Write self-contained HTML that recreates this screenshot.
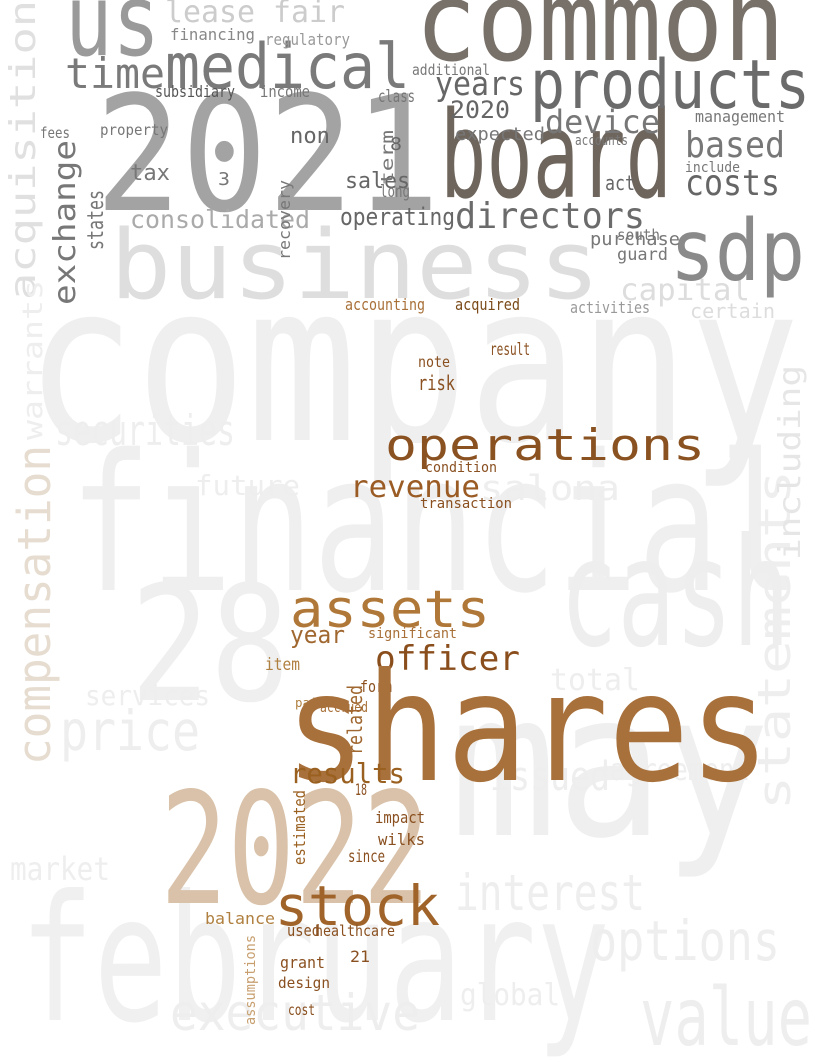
<!DOCTYPE html>
<html><head><meta charset="utf-8"><style>
html,body{margin:0;padding:0;background:#fff;}
svg{display:block;font-family:"DejaVu Sans Mono","Liberation Mono",monospace;}
</style></head><body>
<svg id="cloud" width="820" height="1064" viewBox="0 0 820 1064" xmlns="http://www.w3.org/2000/svg">
<rect width="820" height="1064" fill="#fff"/>
</svg>
<script>
const words   = ["company","financial","may","february","28","cash","business","value","executive","options","interest","price","securities","issued","agreement","future","salona","statements","acquisition","compensation","including","warrants","lease fair","capital","certain","services","market","global","total",
"common","us","2021","board","products","medical","sdp","time","years","2020","device","based","costs","directors","operating","consolidated","sales","tax","non","expected","management","purchase","include","act","accounts","class","income","financing","regulatory","subsidiary","additional","property","fees","3","8","term","long","recovery","guard","south","exchange","states",
"operations","revenue","accounting","acquired","activities","result","note","risk","condition","transaction","assets","year","officer","significant","item","form","paid","accrued","shares","results","related","2022","stock","impact","wilks","since","estimated","balance","healthcare","used","grant","design","cost","21","assumptions","18"];
const colors  = ["#efefef","#efefef","#efefef","#f0f0f0","#efefef","#eeeeee","#dedede","#eeeeee","#eeeeee","#eeeeee","#eeeeee","#eeeeee","#eeeeee","#eeeeee","#eeeeee","#eeeeee","#eeeeee","#eeeeee","#e0e0e0","#e6dccf","#e6e6e6","#eeeeee","#cccccc","#dddddd","#dddddd","#eeeeee","#eeeeee","#eeeeee","#eeeeee",
"#78716a","#9a9a9a","#a3a3a3","#6e655c","#6b6b6b","#7a7a7a","#8a8a8a","#7a7a7a","#666666","#666666","#777777","#777777","#666666","#6b6b6b","#666666","#aaaaaa","#666666","#777777","#666666","#777777","#777777","#777777","#777777","#666666","#777777","#777777","#777777","#888888","#999999","#555555","#777777","#777777","#777777","#777777","#666666","#777777","#777777","#777777","#777777","#777777","#777777","#777777",
"#8b5221","#9a5c24","#a87038","#7a4a18","#999999","#8a5020","#8a5020","#8a5020","#8a5020","#8a5020","#b07838","#a06830","#8a4e1c","#a87038","#b08040","#8a5020","#b08040","#a87038","#a8703a","#9a6020","#a06830","#d9c2a9","#a0642a","#8a5020","#8a5020","#8a5020","#9a6020","#b08040","#8a5020","#8a5020","#8a5020","#8a5020","#8a5020","#8a5020","#c8a070","#8a5020"];
const xs      = [25,70,450,20,130,560,110,640,170,590,455,60,55,490,610,195,480,790,35,50,800,42,165,620,690,85,10,460,550,
415,65,95,440,530,165,670,65,435,450,545,685,685,455,340,130,345,130,290,455,695,590,685,605,575,378,260,170,265,155,412,100,40,218,390,393,380,290,617,617,75,103,
385,350,345,455,570,490,418,418,425,420,290,290,375,368,265,360,295,320,285,290,362,160,275,375,378,348,305,205,315,287,280,278,288,350,255,355];
const ys      = [440,590,835,1020,700,645,298,1045,1030,960,910,750,445,790,780,495,500,810,300,765,560,440,22,300,318,705,880,1005,690,
60,55,210,197,108,88,280,88,95,118,133,157,195,228,225,228,188,180,143,140,122,245,172,190,145,102,97,40,45,97,75,135,138,185,150,185,197,260,260,240,305,250,
460,497,310,310,313,355,367,390,472,508,627,643,670,638,670,692,707,712,780,783,755,903,925,823,845,862,865,924,936,936,968,988,1015,962,1025,795];
const sizes   = [220,190,200,175,160,150,95,80,50,55,50,55,42,40,30,28,35,45,36,45,30,28,30,30,20,28,32,30,30,
110,100,160,120,68,62,85,42,33,24,32,36,36,36,24,25,22,22,22,18,16,18,14,20,14,17,16,16,16,16,15,15,15,18,18,17,17,16,17,15,30,22,
44,30,16,16,16,17,15,20,14,14,52,24,34,14,17,16,12,14,150,28,20,155,55,16,16,17,16,16,15,16,16,15,15,16,14,16];
const widths  = [775,730,320,590,160,230,490,172,250,190,190,140,180,120,140,105,140,340,300,320,195,160,180,130,85,125,100,100,90,
370,95,345,232,280,245,135,100,90,60,115,100,95,190,115,180,65,40,40,90,90,90,55,30,53,37,50,85,85,80,78,68,30,12,12,55,30,80,51,43,165,60,
320,130,80,65,80,40,32,37,72,92,200,55,145,89,35,32,30,48,485,115,70,270,165,50,47,37,75,70,80,33,45,52,27,20,90,12];
const vertical= [0,0,0,0,0,0,0,0,0,0,0,0,0,0,0,0,0,1,1,1,1,1,0,0,0,0,0,0,0,
0,0,0,0,0,0,0,0,0,0,0,0,0,0,0,0,0,0,0,0,0,0,0,0,0,0,0,0,0,0,0,0,0,0,0,1,0,1,0,0,1,1,
0,0,0,0,0,0,0,0,0,0,0,0,0,0,0,0,0,0,0,0,1,0,0,0,0,0,1,0,0,0,0,0,0,0,1,0];

const svg = document.getElementById('cloud');
const NS = "http://www.w3.org/2000/svg";
for (let i = 0; i < words.length; i++) {
  const t = document.createElementNS(NS, 'text');
  
  
  t.setAttribute('x', xs[i]);
  t.setAttribute('y', ys[i]);
  t.setAttribute('font-size', sizes[i]);
  t.setAttribute('fill', colors[i]);
  t.setAttribute('textLength', widths[i]);
  t.setAttribute('lengthAdjust', 'spacingAndGlyphs');
  if (vertical[i]) {
    t.setAttribute('transform', 'rotate(-90 ' + xs[i] + ' ' + ys[i] + ')');
  }
  t.textContent = words[i];
  svg.appendChild(t);
}
</script>
</body></html>
